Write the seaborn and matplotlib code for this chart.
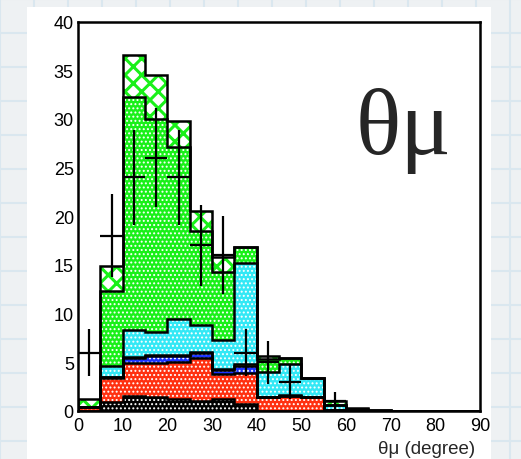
import numpy as np
import pandas as pd
import matplotlib
matplotlib.use("Agg")
import matplotlib.pyplot as plt
import seaborn as sns
from matplotlib.lines import Line2D
from matplotlib.patches import Rectangle
from matplotlib.ticker import MultipleLocator

sns.set_style("white")
plt.rcParams['font.family'] = ['Liberation Sans', 'DejaVu Sans']
plt.rcParams['hatch.linewidth'] = 0.9

# ---- data (bins of 5 degrees, 0..90) ----
bin_edges = [0, 5, 10, 15, 20, 25, 30, 35, 40, 45, 50, 55, 60, 65, 70, 75, 80, 85, 90]
layer_names = ["black", "red", "blue", "yellow", "cyan", "green", "greencross"]
black_vals  = [0.05, 0.96, 1.58, 1.40, 1.23, 1.06, 1.23, 0.68, 0.05, 0.05, 0.05, 0.00, 0.00, 0.00, 0, 0, 0, 0]
red_vals    = [0.35, 2.44, 3.35, 3.53, 3.84, 4.39, 2.57, 3.27, 1.35, 1.50, 1.35, 0.10, 0.00, 0.00, 0, 0, 0, 0]
blue_vals   = [0.00, 0.05, 0.52, 0.67, 0.53, 0.55, 0.45, 0.65, 0.00, 0.00, 0.00, 0.00, 0.00, 0.00, 0, 0, 0, 0]
yellow_vals = [0.00, 0.05, 0.10, 0.10, 0.20, 0.10, 0.10, 0.20, 0.05, 0.05, 0.05, 0.00, 0.00, 0.00, 0, 0, 0, 0]
cyan_vals   = [0.00, 1.16, 2.75, 2.40, 3.65, 2.75, 2.90, 10.45, 2.52, 3.23, 1.95, 0.50, 0.10, 0.00, 0, 0, 0, 0]
green_vals  = [0.05, 7.64, 23.90, 21.90, 17.70, 9.65, 7.05, 1.60, 1.38, 0.57, 0.00, 0.02, 0.15, 0.10, 0, 0, 0, 0]
cross_vals  = [0.75, 2.60, 4.40, 4.50, 2.65, 2.00, 1.50, 0.00, 0.25, 0.00, 0.00, 0.38, 0.02, 0.00, 0, 0, 0, 0]

data_vals = [6, 18, 24, 26, 24, 17, 16, 6, 5, 3, 0, 1, 0, 0, 0, 0, 0, 0]
data_errs = [2.45, 4.24, 4.90, 5.10, 4.90, 4.12, 4.00, 2.45, 2.24, 1.73, 0, 1.00, 0, 0, 0, 0, 0, 0]

x_ticks = [0, 10, 20, 30, 40, 50, 60, 70, 80, 90]
y_ticks = [0, 5, 10, 15, 20, 25, 30, 35, 40]

# ---- styles ----
palette = {"black": "#000000", "red": "#ff3010", "blue": "#1a33ff", "yellow": "#e6e600",
           "cyan": "#33e8f5", "green": "#19f019", "greencross": "#ffffff"}
dots = "...."
hatch_style = {"black": (dots, "white", 0.9), "red": (dots, "white", 0.9),
               "blue": (dots, "white", 0.9), "yellow": (None, None, None),
               "cyan": (dots, "white", 0.9), "green": (dots, "white", 0.9),
               "greencross": ("xx", "#19f019", 2.2)}

layers = [black_vals, red_vals, blue_vals, yellow_vals, cyan_vals, green_vals, cross_vals]
edges = np.array(bin_edges, dtype=float)
centers = (edges[:-1] + edges[1:]) / 2
nb = len(centers)

df = pd.DataFrame({
    "theta": np.tile(centers, len(layers)),
    "count": np.concatenate([np.array(v, dtype=float) for v in layers]),
    "layer": np.repeat(layer_names, nb),
})

W, H = 521, 460
fig = plt.figure(figsize=(W / 100, H / 100), dpi=100)
bg = "#eef1f3"
fig.patch.set_facecolor(bg)
# grid-paper background
for k in range(0, 17):
    p = k * 34
    fig.add_artist(Line2D([p / W, p / W], [0, 1], color="#dae7ef", lw=1.5, zorder=-5))
for k in range(0, 15):
    p = k * 34
    fig.add_artist(Line2D([0, 1], [1 - p / H, 1 - p / H], color="#dae7ef", lw=1.5, zorder=-5))
fig.add_artist(Rectangle((27 / W, 0), (491 - 27) / W, (460 - 8) / H, facecolor="white",
                         edgecolor="none", zorder=-4))

ax = fig.add_axes([78 / W, 48 / H, 402 / W, 389.5 / H])
ax.set_facecolor("white")

# seaborn stacks the last hue level at the bottom -> pass the order top-first
sns.histplot(data=df, x="theta", weights="count", hue="layer", hue_order=layer_names[::-1],
             multiple="stack", bins=list(bin_edges), element="step", fill=True, palette=palette,
             alpha=1, linewidth=0, legend=False, ax=ax)

# apply ROOT-like fill patterns
inv = {matplotlib.colors.to_hex(c): n for n, c in palette.items()}
for coll in ax.collections:
    fc = coll.get_facecolor()
    if len(fc) == 0:
        continue
    name = inv.get(matplotlib.colors.to_hex(fc[0]))
    if name is None:
        continue
    h, hc, hlw = hatch_style[name]
    if h:
        coll.set_hatch(h)
        coll.set_edgecolor(hc)
        coll.set_linewidth(0)
        if hasattr(coll, "set_hatch_linewidth"):
            coll.set_hatch_linewidth(hlw)

# black outlines of each stacked layer
cum = np.zeros(nb)
for v in layers:
    cum = cum + np.array(v, dtype=float)
    ax.stairs(cum, edges, color="black", lw=1.8, zorder=3)

# data points with error bars
dv = np.array(data_vals, dtype=float)
de = np.array(data_errs, dtype=float)
m = dv > 0
ax.errorbar(centers[m], dv[m], yerr=de[m], xerr=2.5, fmt="none", ecolor="black",
            elinewidth=1.6, capsize=0, zorder=4)

ax.set_xlim(0, 90)
ax.set_ylim(0, 40)
ax.set_xticks(x_ticks)
ax.set_yticks(y_ticks)
ax.set_xticklabels([str(t) for t in x_ticks])
ax.set_yticklabels([str(t) for t in y_ticks])
ax.xaxis.set_minor_locator(MultipleLocator(2))
ax.yaxis.set_minor_locator(MultipleLocator(1))
ax.tick_params(which="major", direction="in", length=8, width=1.6, labelsize=13,
               colors="black", top=False, right=False)
ax.tick_params(which="minor", direction="in", length=4, width=1.4, top=False, right=False)
ax.tick_params(axis="x", which="major", pad=4)
ax.tick_params(axis="y", which="major", pad=3)
ax.set_xlabel("")
ax.set_ylabel("")
for s in ax.spines.values():
    s.set_visible(True)
    s.set_color("black")
    s.set_linewidth(1.8)

fig.text(475 / W, 1 - 450 / H, "θμ (degree)", ha="right", va="center", fontsize=13.5)
fig.text(356 / W, 1 - 154 / H, "θμ", ha="left", va="baseline", fontsize=68,
         family=["Liberation Serif", "DejaVu Serif"])

fig.savefig("out.png", dpi=100, facecolor=fig.get_facecolor())
